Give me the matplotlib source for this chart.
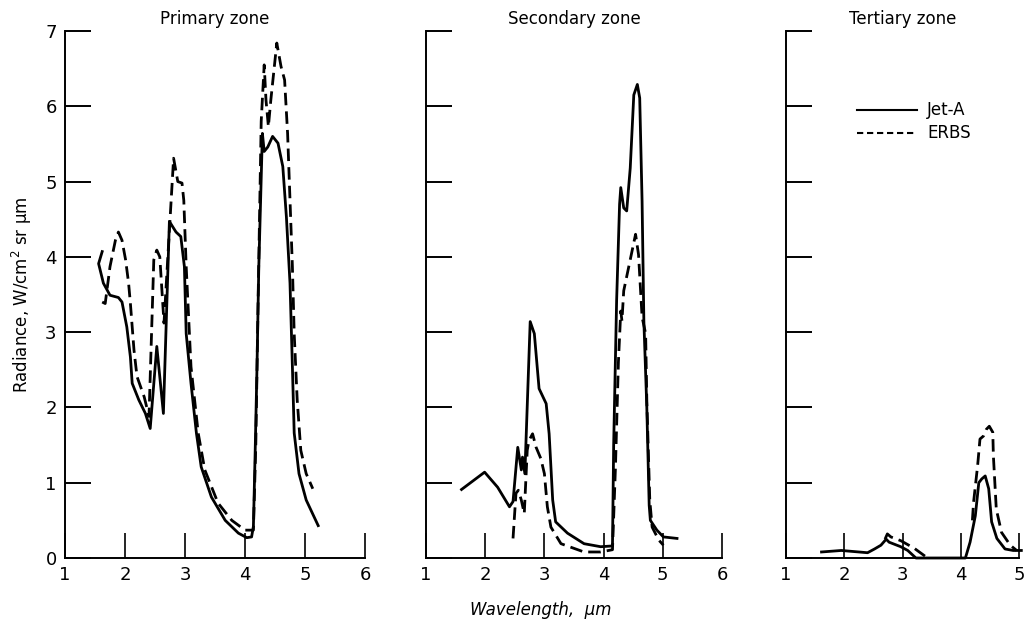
import matplotlib
matplotlib.use("Agg")
import matplotlib.pyplot as plt
from matplotlib.lines import Line2D

# ---------------- data ----------------
# Primary zone
p_jet_x = [1.62, 1.56, 1.64, 1.75, 1.89, 1.95, 2.03, 2.09, 2.12, 2.23, 2.34, 2.42,
           2.53, 2.64, 2.74, 2.85, 2.93, 2.99, 3.02, 3.10, 3.19, 3.27, 3.44, 3.67,
           3.89, 4.03, 4.11, 4.14, 4.17, 4.20, 4.22, 4.23, 4.26, 4.29, 4.32, 4.38,
           4.46, 4.55, 4.63, 4.69, 4.75, 4.79, 4.82, 4.90, 5.02, 5.22]
p_jet_y = [4.07, 3.91, 3.65, 3.49, 3.46, 3.40, 3.07, 2.67, 2.32, 2.10, 1.92, 1.72,
           2.81, 1.92, 4.47, 4.33, 4.27, 3.87, 2.98, 2.32, 1.66, 1.21, 0.81, 0.50,
           0.33, 0.27, 0.28, 0.42, 1.43, 2.54, 3.43, 3.87, 4.75, 5.64, 5.40, 5.46,
           5.60, 5.51, 5.20, 4.53, 3.65, 2.54, 1.66, 1.12, 0.77, 0.43]
p_erbs_x = [1.62, 1.67, 1.75, 1.84, 1.89, 1.95, 2.01, 2.06, 2.09, 2.15, 2.20, 2.32,
            2.40, 2.48, 2.53, 2.58, 2.65, 2.81, 2.88, 2.95, 2.98, 3.02, 3.10, 3.22,
            3.33, 3.55, 3.78, 4.00, 4.14, 4.18, 4.22, 4.27, 4.32, 4.35, 4.39, 4.43,
            4.53, 4.60, 4.66, 4.71, 4.79, 4.82, 4.87, 4.93, 5.02, 5.13]
p_erbs_y = [3.40, 3.38, 3.87, 4.22, 4.33, 4.22, 3.96, 3.65, 3.38, 2.76, 2.41, 2.14,
            1.88, 3.96, 4.09, 4.00, 3.12, 5.31, 5.00, 4.98, 4.75, 3.87, 2.54, 1.66,
            1.17, 0.73, 0.50, 0.37, 0.37, 1.50, 3.50, 5.80, 6.55, 6.08, 5.73, 6.08,
            6.84, 6.53, 6.35, 5.64, 3.87, 2.98, 2.10, 1.43, 1.12, 0.92]

# Secondary zone
s_jet_x = [1.60, 1.99, 2.21, 2.41, 2.47, 2.55, 2.61, 2.63, 2.67, 2.76, 2.83, 2.91,
           3.03, 3.08, 3.14, 3.19, 3.39, 3.67, 3.95, 4.15, 4.17, 4.22, 4.27, 4.29,
           4.34, 4.39, 4.45, 4.51, 4.57, 4.61, 4.65, 4.68, 4.73, 4.77, 4.79, 4.90,
           5.01, 5.24]
s_jet_y = [0.91, 1.14, 0.94, 0.68, 0.75, 1.47, 1.17, 1.34, 1.12, 3.14, 2.98, 2.25,
           2.05, 1.65, 0.77, 0.48, 0.33, 0.19, 0.15, 0.16, 1.50, 3.42, 4.70, 4.92,
           4.65, 4.61, 5.18, 6.15, 6.29, 6.11, 4.74, 3.15, 2.00, 0.70, 0.50, 0.37,
           0.28, 0.26]
s_erbs_x = [2.47, 2.52, 2.56, 2.61, 2.66, 2.71, 2.74, 2.80, 2.86, 2.94, 3.00, 3.05,
            3.11, 3.28, 3.67, 3.95, 4.15, 4.20, 4.25, 4.29, 4.31, 4.34, 4.54, 4.59,
            4.65, 4.71, 4.73, 4.78, 4.82, 4.93, 5.01]
s_erbs_y = [0.26, 0.86, 0.90, 0.77, 0.59, 1.43, 1.56, 1.65, 1.47, 1.32, 1.12, 0.68,
            0.41, 0.19, 0.08, 0.08, 0.11, 1.20, 2.60, 3.28, 3.15, 3.55, 4.30, 4.03,
            3.20, 2.98, 2.09, 0.77, 0.41, 0.24, 0.17]

# Tertiary zone
t_jet_x = [1.61, 1.95, 2.40, 2.52, 2.63, 2.72, 2.77, 2.97, 3.09, 3.23,
           4.08, 4.16, 4.25, 4.31, 4.36, 4.42, 4.48, 4.53, 4.62, 4.76, 4.90, 5.04]
t_jet_y = [0.08, 0.10, 0.07, 0.12, 0.17, 0.25, 0.21, 0.15, 0.10, 0.00,
           0.00, 0.21, 0.56, 1.00, 1.05, 1.09, 0.92, 0.48, 0.26, 0.12, 0.10, 0.10]
t_erbs_x = [2.70, 2.74, 2.80, 2.97, 3.20, 3.43]
t_erbs_y = [0.25, 0.32, 0.28, 0.23, 0.13, 0.00]
t_erbs2_x = [4.20, 4.22, 4.29, 4.33, 4.39, 4.44, 4.49, 4.55, 4.56, 4.61, 4.70, 4.85, 4.96]
t_erbs2_y = [0.50, 0.74, 1.23, 1.58, 1.62, 1.71, 1.75, 1.67, 1.36, 0.65, 0.34, 0.17, 0.10]

titles = ["Primary zone", "Secondary zone", "Tertiary zone"]
yticks = [0, 1, 2, 3, 4, 5, 6, 7]
xticks_a = [1, 2, 3, 4, 5, 6]
xticks_c = [1, 2, 3, 4, 5]

# ---------------- drawing ----------------
plt.rcParams['font.family'] = ['DejaVu Sans']
fig = plt.figure(figsize=(10.32, 6.25), dpi=100)

H = 527 / 625
B = 67 / 625
axes = [fig.add_axes([65 / 1032, B, 300 / 1032, H]),
        fig.add_axes([426 / 1032, B, 296 / 1032, H]),
        fig.add_axes([786 / 1032, B, 233 / 1032, H])]

lw = 2.0
dash = (0, (4.5, 2.2))
data = [((p_jet_x, p_jet_y), [(p_erbs_x, p_erbs_y)]),
        ((s_jet_x, s_jet_y), [(s_erbs_x, s_erbs_y)]),
        ((t_jet_x, t_jet_y), [(t_erbs_x, t_erbs_y), (t_erbs2_x, t_erbs2_y)])]

for i, ax in enumerate(axes):
    (jx, jy), erbs = data[i]
    ax.plot(jx, jy, color='black', lw=lw, solid_joinstyle='round', clip_on=False)
    for ex, ey in erbs:
        ax.plot(ex, ey, color='black', lw=lw, linestyle=dash, clip_on=False)
    xt = xticks_c if i == 2 else xticks_a
    ax.set_xlim(xt[0], xt[-1])
    ax.set_ylim(0, 7)
    ax.set_xticks(xt)
    ax.set_yticks(yticks)
    for s in ['top', 'right']:
        ax.spines[s].set_visible(False)
    for s in ['left', 'bottom']:
        ax.spines[s].set_linewidth(1.4)
    ax.tick_params(axis='y', direction='in', length=19, width=1.4, labelsize=13, pad=6)
    ax.tick_params(axis='x', direction='in', length=18, width=1.2, labelsize=13, pad=6)
    if i > 0:
        ax.tick_params(axis='y', labelleft=False)
    ax.set_title(titles[i], fontsize=12, pad=5)

axes[0].set_ylabel("Radiance, W/cm$^2$ sr µm", fontsize=12, labelpad=8)
fig.text(541 / 1032, 15 / 625, "Wavelength,  µm", fontsize=12, style='italic',
         ha='center', va='center')

handles = [Line2D([], [], color='black', lw=1.5),
           Line2D([], [], color='black', lw=1.5, linestyle=(0, (3, 1.8)))]
axes[2].legend(handles, ["Jet-A", "ERBS"], loc='upper left',
               bbox_to_anchor=(0.24, 0.895), frameon=False, fontsize=12,
               handlelength=3.6, handletextpad=0.6, labelspacing=0.3)

fig.savefig("out.png", dpi=100)
